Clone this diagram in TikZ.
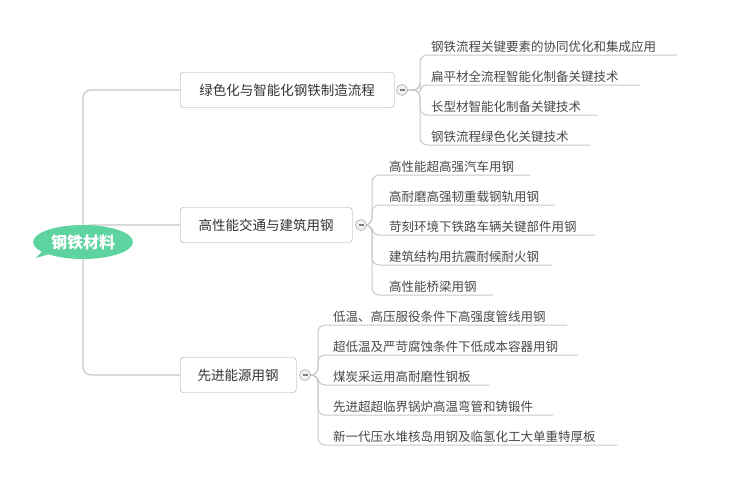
\documentclass[tikz,border=0pt]{standalone}
\usepackage{fontspec}
\setmainfont{Noto Sans CJK SC}
\usetikzlibrary{shapes.geometric}
\definecolor{ln}{HTML}{C8C8C8}
\definecolor{tx}{HTML}{333333}
\definecolor{rootc}{HTML}{5DD3A0}
\tikzset{
 x=1pt,y=-1pt,
 br/.style={draw=ln,line width=1.2pt,rounded corners=8pt},
 box/.style={draw=ln!80!black,fill=white,rounded corners=3pt,minimum height=35pt,anchor=west,inner xsep=4pt,font=\fontsize{13.5}{15}\selectfont,text=tx},
 leaf/.style={anchor=south west,inner sep=2pt,font=\fontsize{12.5}{14}\selectfont,text=tx!90},
 tog/.style={circle,draw=ln!70!black,fill=gray!10,minimum size=11pt,inner sep=0pt,path picture={\draw[gray,line width=1.2pt](path picture bounding box.center)++(-2.5pt,0)--++(5pt,0);}},
 lf/.style={draw=ln,line width=1pt,rounded corners=7pt}
}
\begin{document}
\begin{tikzpicture}
\useasboundingbox (0,0) rectangle (730,480);
\draw[br] (83,235) -- (83,90) -- (180,90);
\draw[br] (83,235) -- (83,225) -- (180,225);
\draw[br] (83,235) -- (83,375) -- (180,375);
\fill[rootc] (45,248) -- (36,258) -- (56,252) -- cycle;
\node[ellipse,fill=rootc,minimum width=98pt,minimum height=34pt,text=white,font=\fontsize{16}{18}\bfseries\selectfont] (root) at (83,242) {钢铁材料};
\node[box,minimum width=214pt] (b1) at (180,90) {绿色化与智能化钢铁制造流程};
\node[box,minimum width=172pt] (b2) at (180,225) {高性能交通与建筑用钢};
\node[box,minimum width=116pt] (b3) at (180,375) {先进能源用钢};
\coordinate (t1) at (402,90);
\foreach \y/\e/\t [count=\i] in {55/677/钢铁流程关键要素的协同优化和集成应用,85/640/扁平材全流程智能化制备关键技术,115/598/长型材智能化制备关键技术,145/590/钢铁流程绿色化关键技术}{
 \coordinate (a\i) at (\e,\y);
 \draw[lf] (t1) -- (420,90) -- (420,\y) -- (a\i);
 \node[leaf] at (429,\y) {\t};
}
\node[tog] at (t1) {};
\coordinate (t2) at (361,225);
\foreach \y/\e/\t [count=\i] in {175/530/高性能超高强汽车用钢,205/555/高耐磨高强韧重载钢轨用钢,235/595/苛刻环境下铁路车辆关键部件用钢,265/552/建筑结构用抗震耐候耐火钢,295/493/高性能桥梁用钢}{
 \coordinate (c\i) at (\e,\y);
 \draw[lf] (t2) -- (372,225) -- (372,\y) -- (c\i);
 \node[leaf] at (387,\y) {\t};
}
\node[tog] at (t2) {};
\coordinate (t3) at (305,375);
\foreach \y/\e/\t [count=\i] in {325/567/低温、高压服役条件下高强度管线用钢,355/578/超低温及严苛腐蚀条件下低成本容器用钢,385/489/煤炭采运用高耐磨性钢板,415/553/先进超超临界锅炉高温弯管和铸锻件,445/617/新一代压水堆核岛用钢及临氢化工大单重特厚板}{
 \coordinate (d\i) at (\e,\y);
 \draw[lf] (t3) -- (318,375) -- (318,\y) -- (d\i);
 \node[leaf] at (331,\y) {\t};
}
\node[tog] at (t3) {};
\end{tikzpicture}
\end{document}
